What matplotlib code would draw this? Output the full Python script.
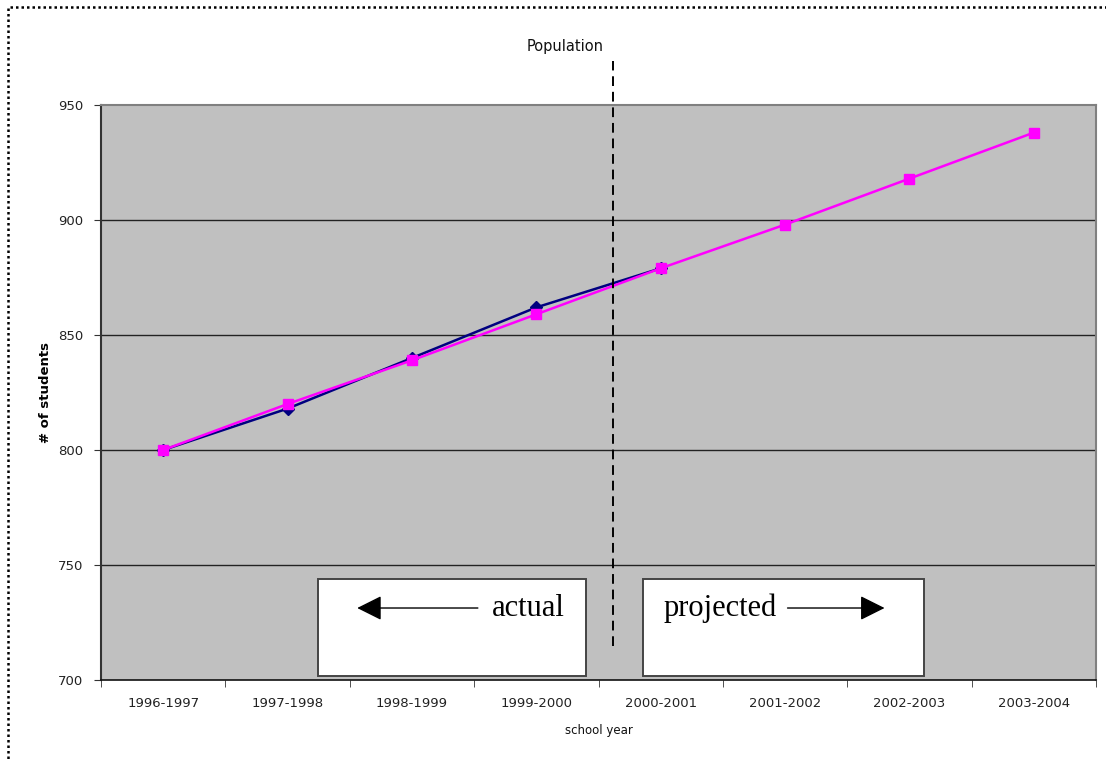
import matplotlib
matplotlib.use("Agg")
import matplotlib.pyplot as plt
from matplotlib.patches import Rectangle, FancyArrowPatch
from matplotlib.lines import Line2D

# School years and enrollment counts
years = ["1996-1997", "1997-1998", "1998-1999", "1999-2000",
         "2000-2001", "2001-2002", "2002-2003", "2003-2004"]
actual = [800, 818, 840, 862, 879]
projected = [800, 820, 839, 859, 879, 898, 918, 938]
y_ticks = [700, 750, 800, 850, 900, 950]

W, H = 1106, 762
fig = plt.figure(figsize=(W / 100, H / 100), dpi=100)
fig.patch.set_facecolor("white")

# dotted outline around the chart
fig.patches.append(Rectangle((8 / W, -0.05), 1.1, 1 - 7 / H + 0.05,
                             transform=fig.transFigure, fill=False,
                             edgecolor="black", linewidth=1.8,
                             linestyle=(0, (1, 1.2)), zorder=0))

ax = fig.add_axes([101 / W, 1 - 680 / H, 995 / W, 575 / H])
ax.set_facecolor("#c0c0c0")

n = len(years)
ax.set_xlim(-0.5, n - 0.5)
ax.set_ylim(700, 950)
ax.set_yticks(y_ticks)
ax.set_yticklabels([str(t) for t in y_ticks], fontsize=9.5, color="#222222")
ax.set_xticks(range(n))
ax.set_xticklabels(years, fontsize=9.5, color="#222222")
ax.set_xticks([i - 0.5 for i in range(n + 1)], minor=True)
ax.tick_params(axis="x", which="major", length=0, pad=12)
ax.tick_params(axis="x", which="minor", length=5, color="#333333")
ax.tick_params(axis="y", length=5, color="#333333", pad=8)

for t in y_ticks[1:-1]:
    ax.axhline(t, color="#222222", linewidth=1.0, zorder=1)

for side in ["top", "right"]:
    ax.spines[side].set_color("#808080")
    ax.spines[side].set_linewidth(1.5)
ax.spines["left"].set_color("#333333")
ax.spines["left"].set_linewidth(1.5)
ax.spines["bottom"].set_color("#111111")
ax.spines["bottom"].set_linewidth(1.2)

ax.plot(range(len(actual)), actual, color="#000080", linewidth=1.8,
        marker="D", markersize=6, markerfacecolor="#000080",
        markeredgecolor="#000080", zorder=3)
ax.plot(range(len(projected)), projected, color="#ff00ff", linewidth=1.8,
        marker="s", markersize=7, markerfacecolor="#ff00ff",
        markeredgecolor="#ff00ff", zorder=4)

# dashed divider between actual and projected years
divider_x = 3.62
ax.add_line(Line2D([divider_x, divider_x], [715, 969], color="black",
                   linewidth=1.4, linestyle=(0, (5, 3)), clip_on=False,
                   zorder=5))

# explanatory boxes
box_style = dict(facecolor="white", edgecolor="#444444", linewidth=1.4, zorder=6)
ax.add_patch(Rectangle((1.246, 701.7), 3.40 - 1.246, 42.2, **box_style))
ax.add_patch(Rectangle((3.86, 701.7), 6.12 - 3.86, 42.2, **box_style))

arrow_kw = dict(arrowstyle="-|>,head_length=0.9,head_width=0.45",
                color="black", linewidth=1.0, mutation_scale=17, zorder=7)
ax.add_patch(FancyArrowPatch((2.53, 731.3), (1.56, 731.3),
                             shrinkA=0, shrinkB=0, **arrow_kw))
ax.text(2.64, 731.3, "actual", fontsize=22, family="Liberation Serif",
        va="center", ha="left", zorder=7)
ax.text(4.02, 731.3, "projected", fontsize=22, family="Liberation Serif",
        va="center", ha="left", zorder=7)
ax.add_patch(FancyArrowPatch((5.02, 731.3), (5.80, 731.3),
                             shrinkA=0, shrinkB=0, **arrow_kw))

fig.text(565 / W, 1 - 47 / H, "Population", fontsize=10.5, ha="center",
         va="center", color="#111111")
ax.set_xlabel("school year", fontsize=8.5, labelpad=10, color="#111111")
ax.set_ylabel("# of students", fontsize=9.5, fontweight="bold", labelpad=4)

fig.savefig("out.png", dpi=100)
